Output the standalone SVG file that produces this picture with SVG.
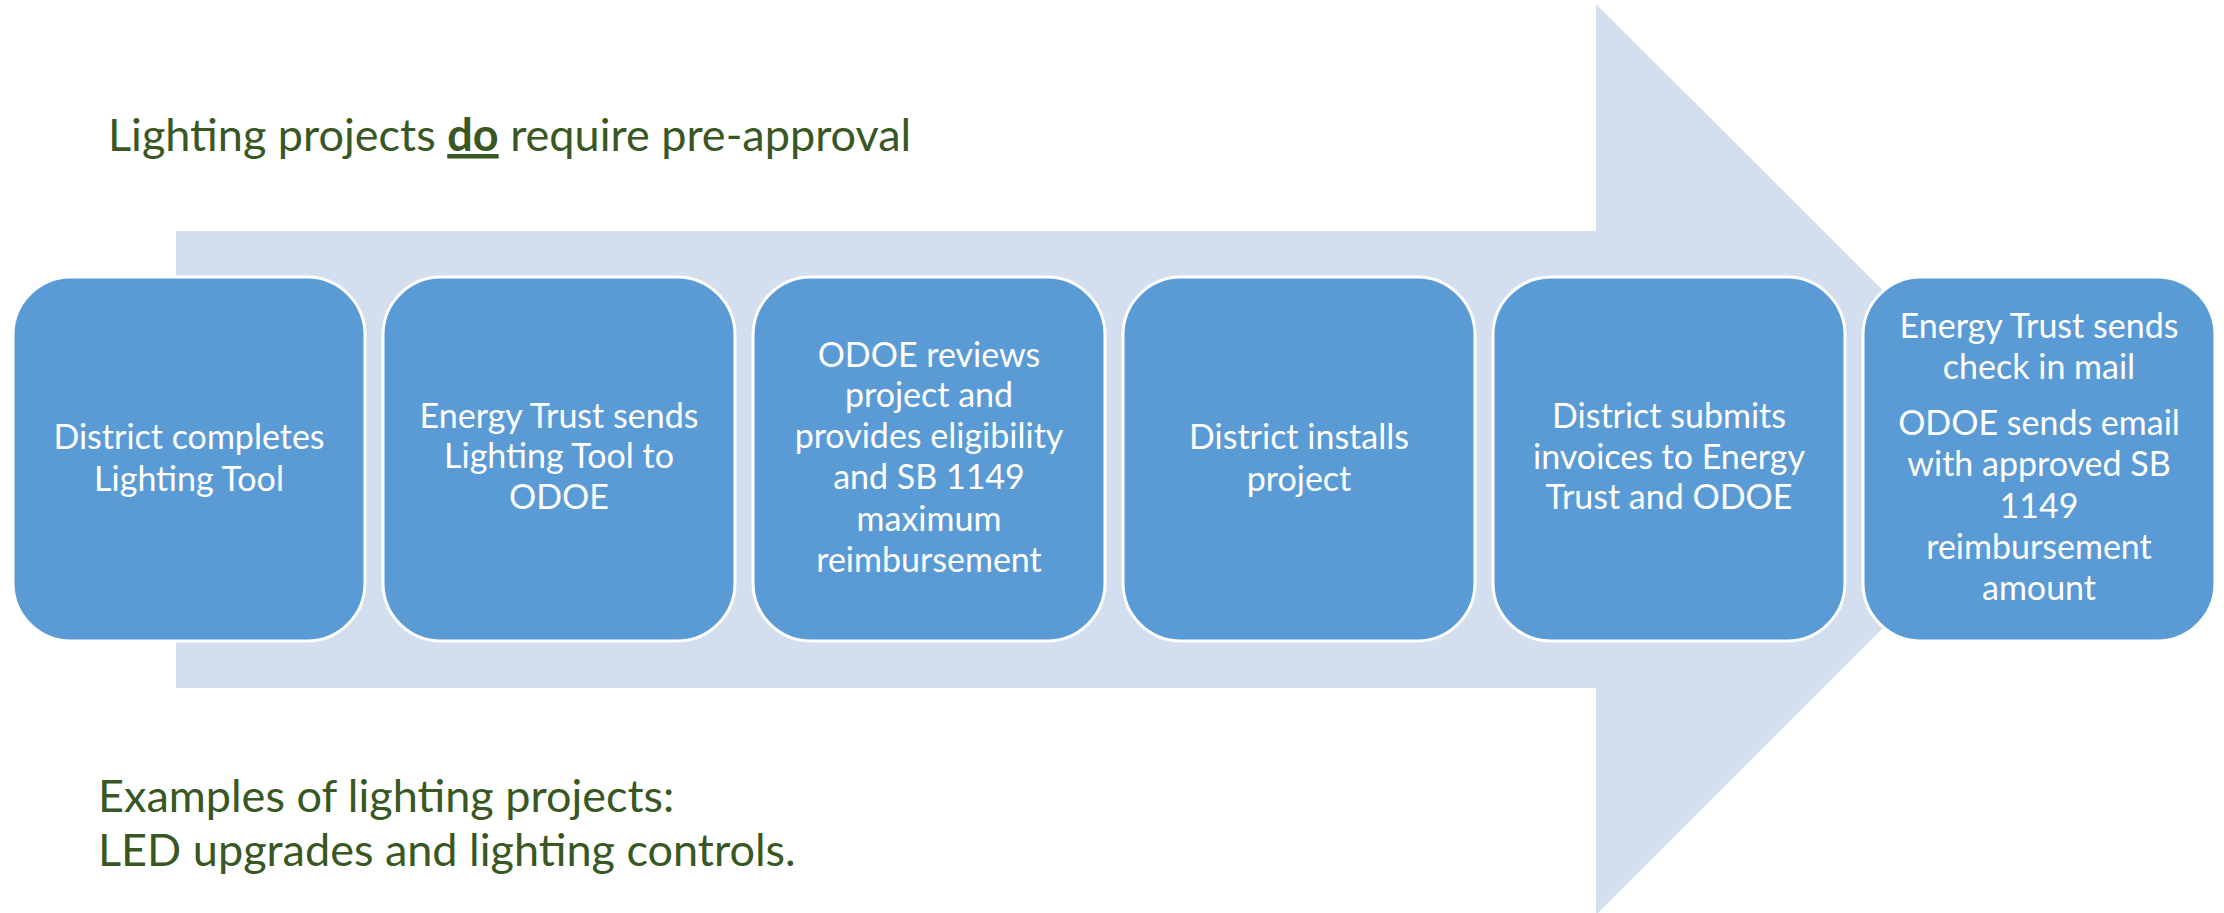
<svg xmlns="http://www.w3.org/2000/svg" width="2224" height="913" viewBox="0 0 2224 913">
<style>
.box{fill:#5B9BD5;stroke:#FFFFFF;stroke-width:3}
.bt{font-family:Lato,"Open Sans",sans-serif;font-size:34px;fill:#FFFFFF;text-anchor:middle}
.gt{font-family:Lato,"Open Sans",sans-serif;font-size:45px;fill:#385723}
</style>
<rect width="2224" height="913" fill="#FFFFFF"/>
<g id="arrow">
<polygon points="176,231 1596,231 1596,4 2052,459 1596,915 1596,688 176,688" fill="#D3DEEF"/>
</g>
<g id="title">
<text class="gt" x="108" y="151">Lighting projects <tspan font-weight="bold" text-decoration="underline">do</tspan> require pre-approval</text>
</g>
<g id="examples">
<text class="gt" x="98" y="812">Examples of lighting projects:</text>
<text class="gt" x="98" y="866">LED upgrades and lighting controls.</text>
</g>
<g id="connectors"></g>
<g id="step1">
<rect class="box" x="13" y="277" width="352" height="364" rx="58"/>
<text class="bt" x="189" y="449">District completes</text>
<text class="bt" x="189" y="491">Lighting Tool</text>
</g>
<g id="step2">
<rect class="box" x="383" y="277" width="352" height="364" rx="58"/>
<text class="bt" x="559" y="428">Energy Trust sends</text>
<text class="bt" x="559" y="468">Lighting Tool to</text>
<text class="bt" x="559" y="509">ODOE</text>
</g>
<g id="step3">
<rect class="box" x="753" y="277" width="352" height="364" rx="58"/>
<text class="bt" x="929" y="367">ODOE reviews</text>
<text class="bt" x="929" y="407">project and</text>
<text class="bt" x="929" y="448">provides eligibility</text>
<text class="bt" x="929" y="489">and SB 1149</text>
<text class="bt" x="929" y="531">maximum</text>
<text class="bt" x="929" y="572">reimbursement</text>
</g>
<g id="step4">
<rect class="box" x="1123" y="277" width="352" height="364" rx="58"/>
<text class="bt" x="1299" y="449">District installs</text>
<text class="bt" x="1299" y="491">project</text>
</g>
<g id="step5">
<rect class="box" x="1493" y="277" width="352" height="364" rx="58"/>
<text class="bt" x="1669" y="428">District submits</text>
<text class="bt" x="1669" y="469">invoices to Energy</text>
<text class="bt" x="1669" y="509">Trust and ODOE</text>
</g>
<g id="step6">
<rect class="box" x="1863" y="277" width="352" height="364" rx="58"/>
<text class="bt" x="2039" y="338">Energy Trust sends</text>
<text class="bt" x="2039" y="379">check in mail</text>
<text class="bt" x="2039" y="435">ODOE sends email</text>
<text class="bt" x="2039" y="476">with approved SB</text>
<text class="bt" x="2039" y="518">1149</text>
<text class="bt" x="2039" y="559">reimbursement</text>
<text class="bt" x="2039" y="600">amount</text>
</g>
</svg>
